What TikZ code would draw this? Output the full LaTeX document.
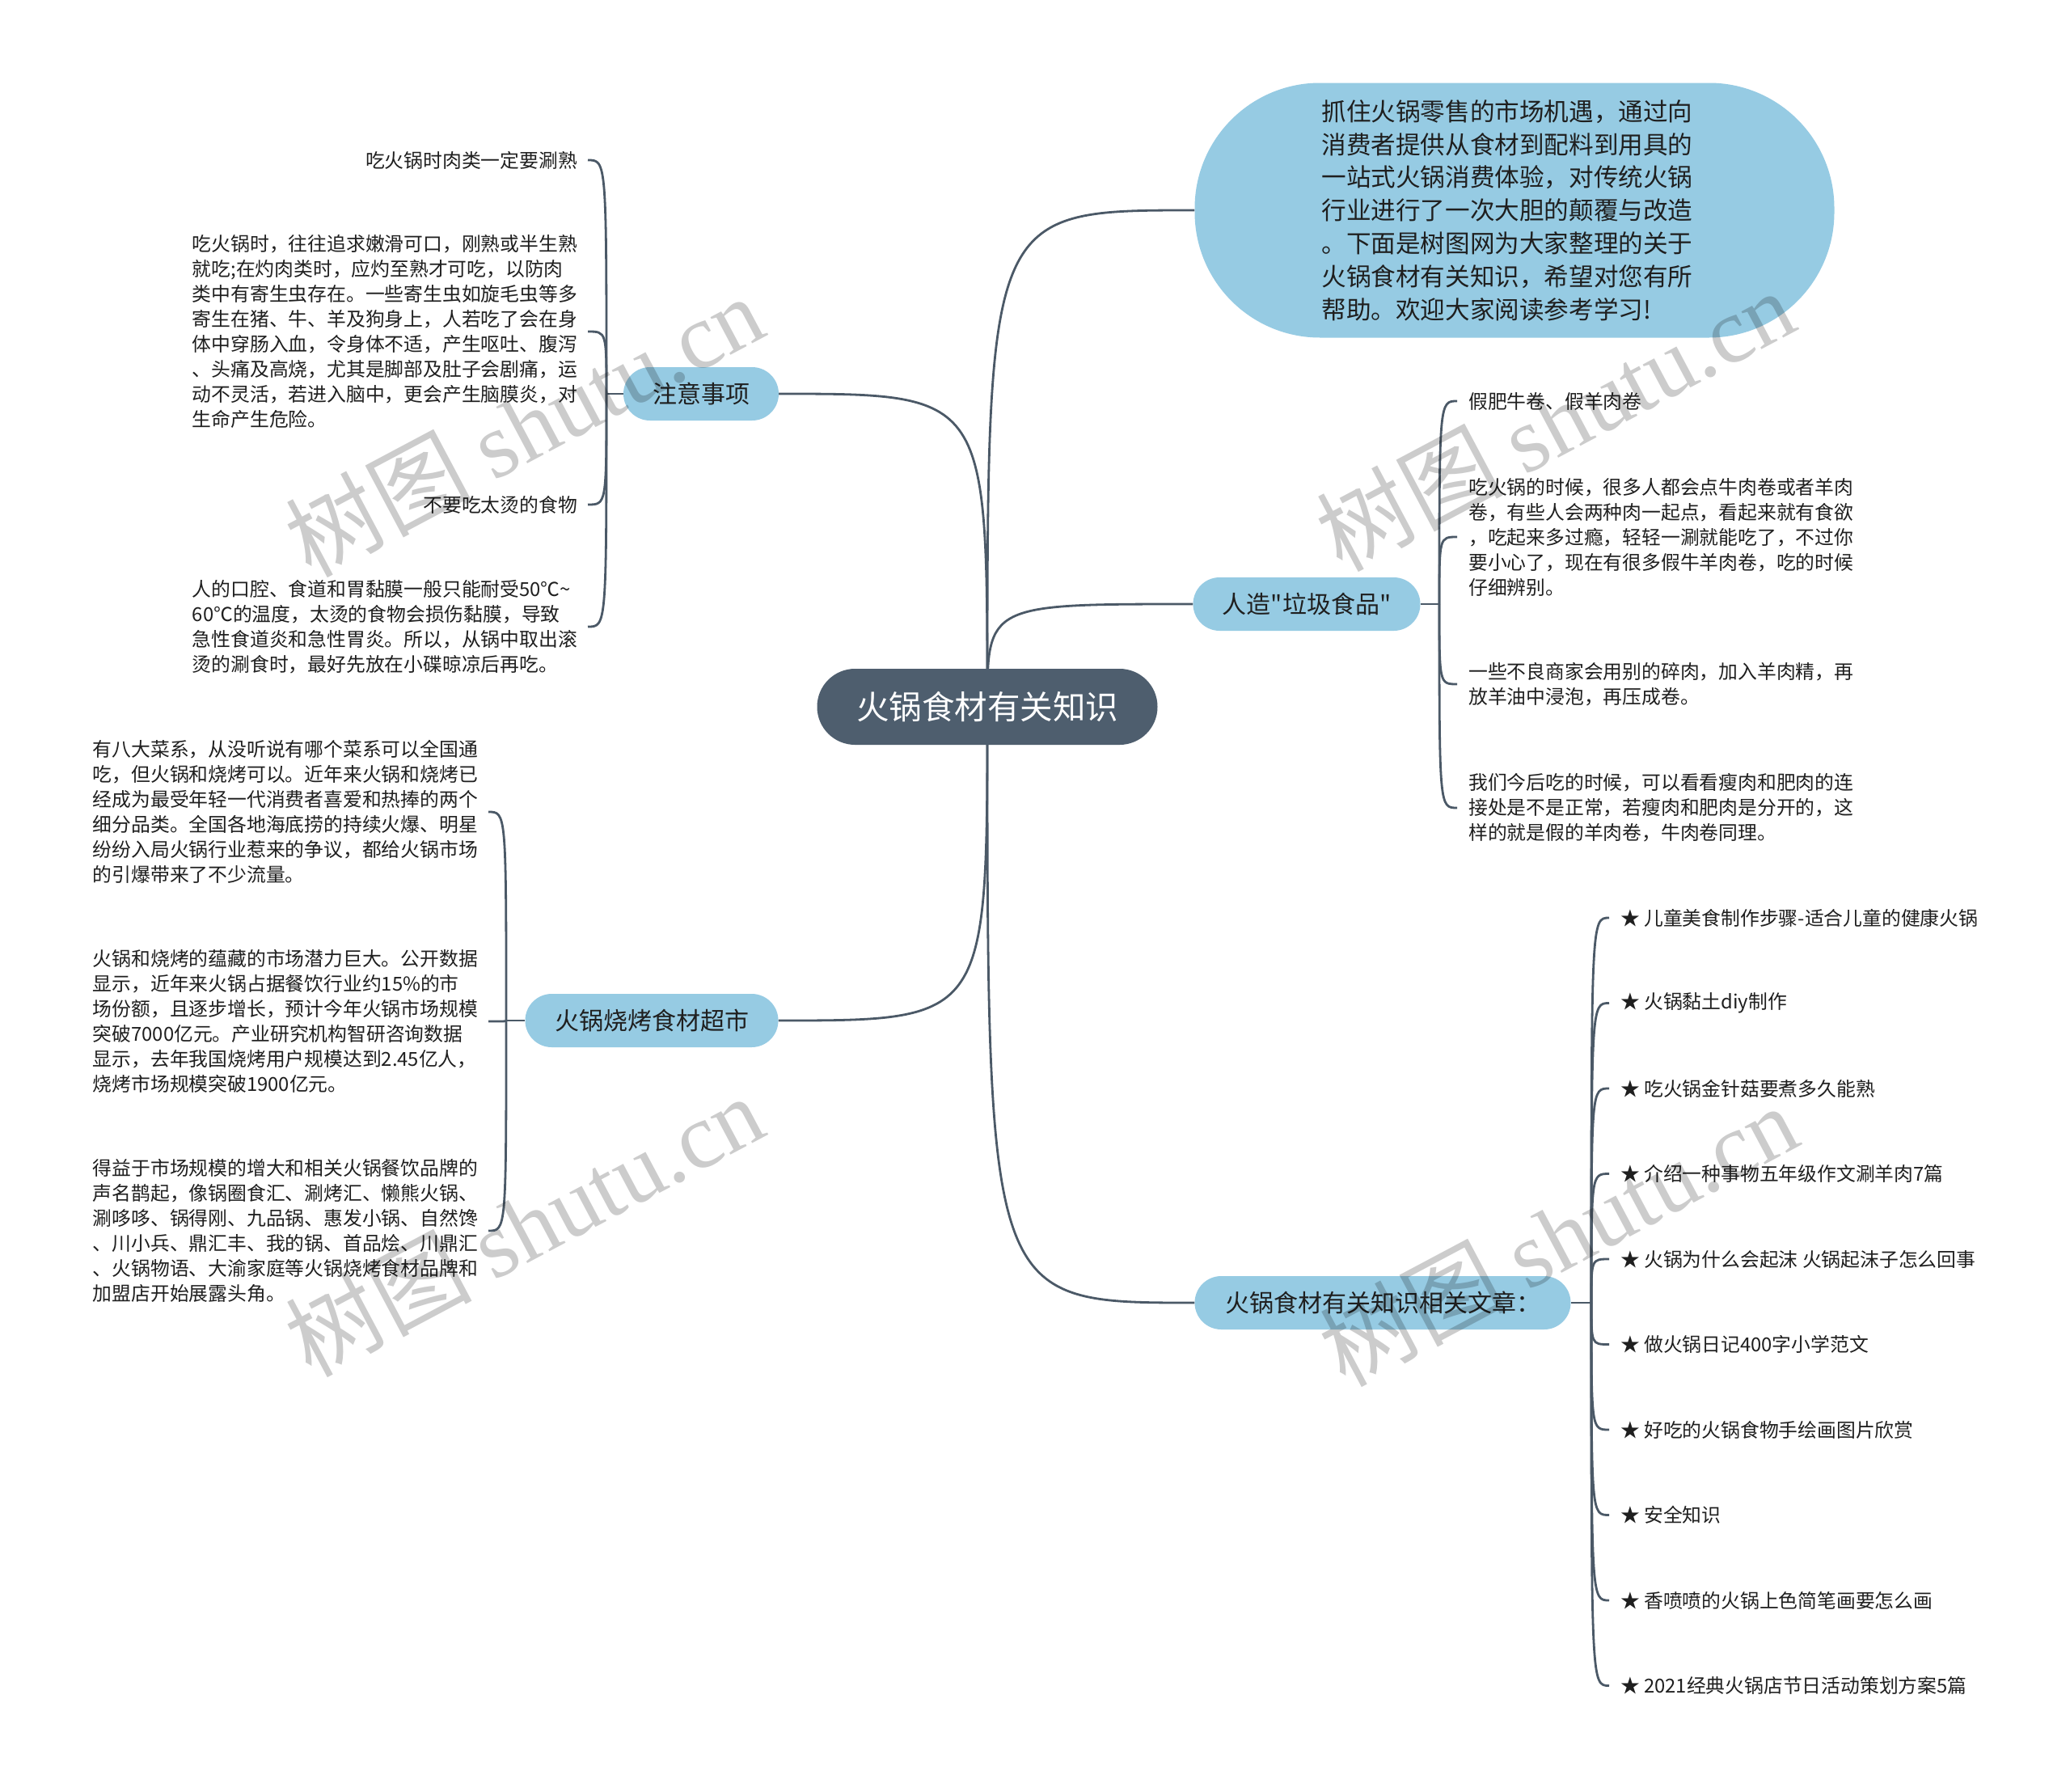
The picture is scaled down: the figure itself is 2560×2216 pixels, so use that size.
\documentclass[tikz,border=0pt]{standalone}
\usepackage{fontspec}
\setmainfont{Noto Sans CJK SC}
\newfontfamily\cjk{Noto Sans CJK SC}
\newfontfamily\wmserif{Liberation Serif}
\usetikzlibrary{backgrounds}
\definecolor{linec}{HTML}{4B5967}
\definecolor{centerc}{HTML}{4E5E6E}
\definecolor{bluec}{HTML}{96CBE3}
\definecolor{textc}{HTML}{1F1F1F}
\tikzset{
  link/.style={draw=linec, line width=2.8pt},
  rootnode/.style={fill=centerc, text=white, rounded corners=46.9pt, minimum width=421pt, minimum height=94pt, inner sep=0pt, font=\cjk\fontsize{40.5}{48}\selectfont},
  branch/.style={fill=bluec, text=textc, rounded corners=32.9pt, minimum height=66pt, inner sep=0pt, font=\cjk\fontsize{30}{36}\selectfont},
  introbox/.style={fill=bluec, text=textc, rounded corners=155pt, minimum width=791pt, minimum height=315pt, inner sep=0pt, align=left, font=\cjk\fontsize{30.6}{40.8}\selectfont},
  leafL/.style={anchor=east, align=left, text=textc, inner xsep=13pt, inner ysep=0pt, font=\cjk\fontsize{23.8}{31}\selectfont},
  leafR/.style={anchor=west, align=left, text=textc, inner xsep=14pt, inner ysep=0pt, font=\cjk\fontsize{23.8}{31}\selectfont},
  wm/.style={rotate=28, text=black, text opacity=0.2, inner sep=0pt, font=\cjk\fontsize{115}{115}\selectfont}
}
\begin{document}
\begin{tikzpicture}[x=1pt, y=-1pt]
\useasboundingbox (0,0) rectangle (2560,2216);

% root and intro
\node[rootnode] (root) at (1221,874) {火锅食材有关知识};
\node[introbox] (intro) at (1873,260) {抓住火锅零售的市场机遇，通过向\hspace*{18pt}\\消费者提供从食材到配料到用具的\\一站式火锅消费体验，对传统火锅\\行业进行了一次大胆的颠覆与改造\\。下面是树图网为大家整理的关于\\火锅食材有关知识，希望对您有所\\帮助。欢迎大家阅读参考学习!};

% branches
\node[branch, minimum width=192pt] (b1) at (867,487) {注意事项};
\node[branch, minimum width=281pt] (b2) at (1616,747) {人造"垃圾食品"};
\node[branch, minimum width=313pt] (b3) at (806,1262) {火锅烧烤食材超市};
\node[branch, minimum width=465pt] (b4) at (1710,1611) {火锅食材有关知识相关文章：};

% leaves of b1
\node[leafL] (a1) at (727,198) {吃火锅时肉类一定要涮熟};
\node[leafL] (a2) at (727,410) {吃火锅时，往往追求嫩滑可口，刚熟或半生熟\\就吃;在灼肉类时，应灼至熟才可吃，以防肉\\类中有寄生虫存在。一些寄生虫如旋毛虫等多\\寄生在猪、牛、羊及狗身上，人若吃了会在身\\体中穿肠入血，令身体不适，产生呕吐、腹泻\\、头痛及高烧，尤其是脚部及肚子会剧痛，运\\动不灵活，若进入脑中，更会产生脑膜炎，对\\生命产生危险。};
\node[leafL] (a3) at (727,624) {不要吃太烫的食物};
\node[leafL] (a4) at (727,775) {人的口腔、食道和胃黏膜一般只能耐受50℃\textasciitilde\\60℃的温度，太烫的食物会损伤黏膜，导致\\急性食道炎和急性胃炎。所以，从锅中取出滚\\烫的涮食时，最好先放在小碟晾凉后再吃。};
\coordinate (j1) at (750,487);

% leaves of b2
\node[leafR] (d1) at (1802,496) {假肥牛卷、假羊肉卷};
\node[leafR] (d2) at (1802,664) {吃火锅的时候，很多人都会点牛肉卷或者羊肉\\卷，有些人会两种肉一起点，看起来就有食欲\\，吃起来多过瘾，轻轻一涮就能吃了，不过你\\要小心了，现在有很多假牛羊肉卷，吃的时候\\仔细辨别。};
\node[leafR] (d3) at (1802,846) {一些不良商家会用别的碎肉，加入羊肉精，再\\放羊油中浸泡，再压成卷。};
\node[leafR] (d4) at (1802,999) {我们今后吃的时候，可以看看瘦肉和肥肉的连\\接处是不是正常，若瘦肉和肥肉是分开的，这\\样的就是假的羊肉卷，牛肉卷同理。};
\coordinate (j2) at (1780,747);

% leaves of b3
\node[leafL] (c1) at (604,1004) {有八大菜系，从没听说有哪个菜系可以全国通\\吃，但火锅和烧烤可以。近年来火锅和烧烤已\\经成为最受年轻一代消费者喜爱和热捧的两个\\细分品类。全国各地海底捞的持续火爆、明星\\纷纷入局火锅行业惹来的争议，都给火锅市场\\的引爆带来了不少流量。};
\node[leafL] (c2) at (604,1263) {火锅和烧烤的蕴藏的市场潜力巨大。公开数据\\显示，近年来火锅占据餐饮行业约15\%的市\\场份额，且逐步增长，预计今年火锅市场规模\\突破7000亿元。产业研究机构智研咨询数据\\显示，去年我国烧烤用户规模达到2.45亿人，\\烧烤市场规模突破1900亿元。};
\node[leafL] (c3) at (604,1522) {得益于市场规模的增大和相关火锅餐饮品牌的\\声名鹊起，像锅圈食汇、涮烤汇、懒熊火锅、\\涮哆哆、锅得刚、九品锅、惠发小锅、自然馋\\、川小兵、鼎汇丰、我的锅、首品烩、川鼎汇\\、火锅物语、大渝家庭等火锅烧烤食材品牌和\\加盟店开始展露头角。};
\coordinate (j3) at (626,1262);

% leaves of b4
\node[leafR] (e1) at (1990,1135) {★ 儿童美食制作步骤-适合儿童的健康火锅};
\node[leafR] (e2) at (1990,1240.5) {★ 火锅黏土diy制作};
\node[leafR] (e3) at (1990,1346) {★ 吃火锅金针菇要煮多久能熟};
\node[leafR] (e4) at (1990,1451.5) {★ 介绍一种事物五年级作文涮羊肉7篇};
\node[leafR] (e5) at (1990,1557) {★ 火锅为什么会起沫 火锅起沫子怎么回事};
\node[leafR] (e6) at (1990,1662.5) {★ 做火锅日记400字小学范文};
\node[leafR] (e7) at (1990,1768) {★ 好吃的火锅食物手绘画图片欣赏};
\node[leafR] (e8) at (1990,1873.5) {★ 安全知识};
\node[leafR] (e9) at (1990,1979) {★ 香喷喷的火锅上色简笔画要怎么画};
\node[leafR] (e10) at (1990,2084.5) {★ 2021经典火锅店节日活动策划方案5篇};
\coordinate (j4) at (1968,1611);

\begin{pgfonlayer}{background}
  \fill[white] (0,0) rectangle (2560,2216);
  \draw[link] (root.center) .. controls (root.center |- b1.east) .. (b1.east);
  \draw[link] (root.center) .. controls (root.center |- intro.west) .. (intro.west);
  \draw[link] (root.center) .. controls (root.center |- b2.west) .. (b2.west);
  \draw[link] (root.center) .. controls (root.center |- b3.east) .. (b3.east);
  \draw[link] (root.center) .. controls (root.center |- b4.west) .. (b4.west);
  \draw[link] (b1.west) -- (j1);
  \foreach \n in {a1,a2,a3,a4} \draw[link] (j1) .. controls (j1 |- \n.east) .. (\n.east);
  \draw[link] (b2.east) -- (j2);
  \foreach \n in {d1,d2,d3,d4} \draw[link] (j2) .. controls (j2 |- \n.west) .. (\n.west);
  \draw[link] (b3.west) -- (j3);
  \foreach \n in {c1,c2,c3} \draw[link] (j3) .. controls (j3 |- \n.east) .. (\n.east);
  \draw[link] (b4.east) -- (j4);
  \foreach \n in {e1,e2,e3,e4,e5,e6,e7,e8,e9,e10} \draw[link] (j4) .. controls (j4 |- \n.west) .. (\n.west);
\end{pgfonlayer}

% watermarks
\node[wm] (w1) at (648,526) {树图 {\wmserif shutu.cn}};
\node[wm] (w2) at (1923,519) {树图 {\wmserif shutu.cn}};
\node[wm] (w3) at (648,1515) {树图 {\wmserif shutu.cn}};
\node[wm] (w4) at (1927,1527) {树图 {\wmserif shutu.cn}};
\end{tikzpicture}
\end{document}
